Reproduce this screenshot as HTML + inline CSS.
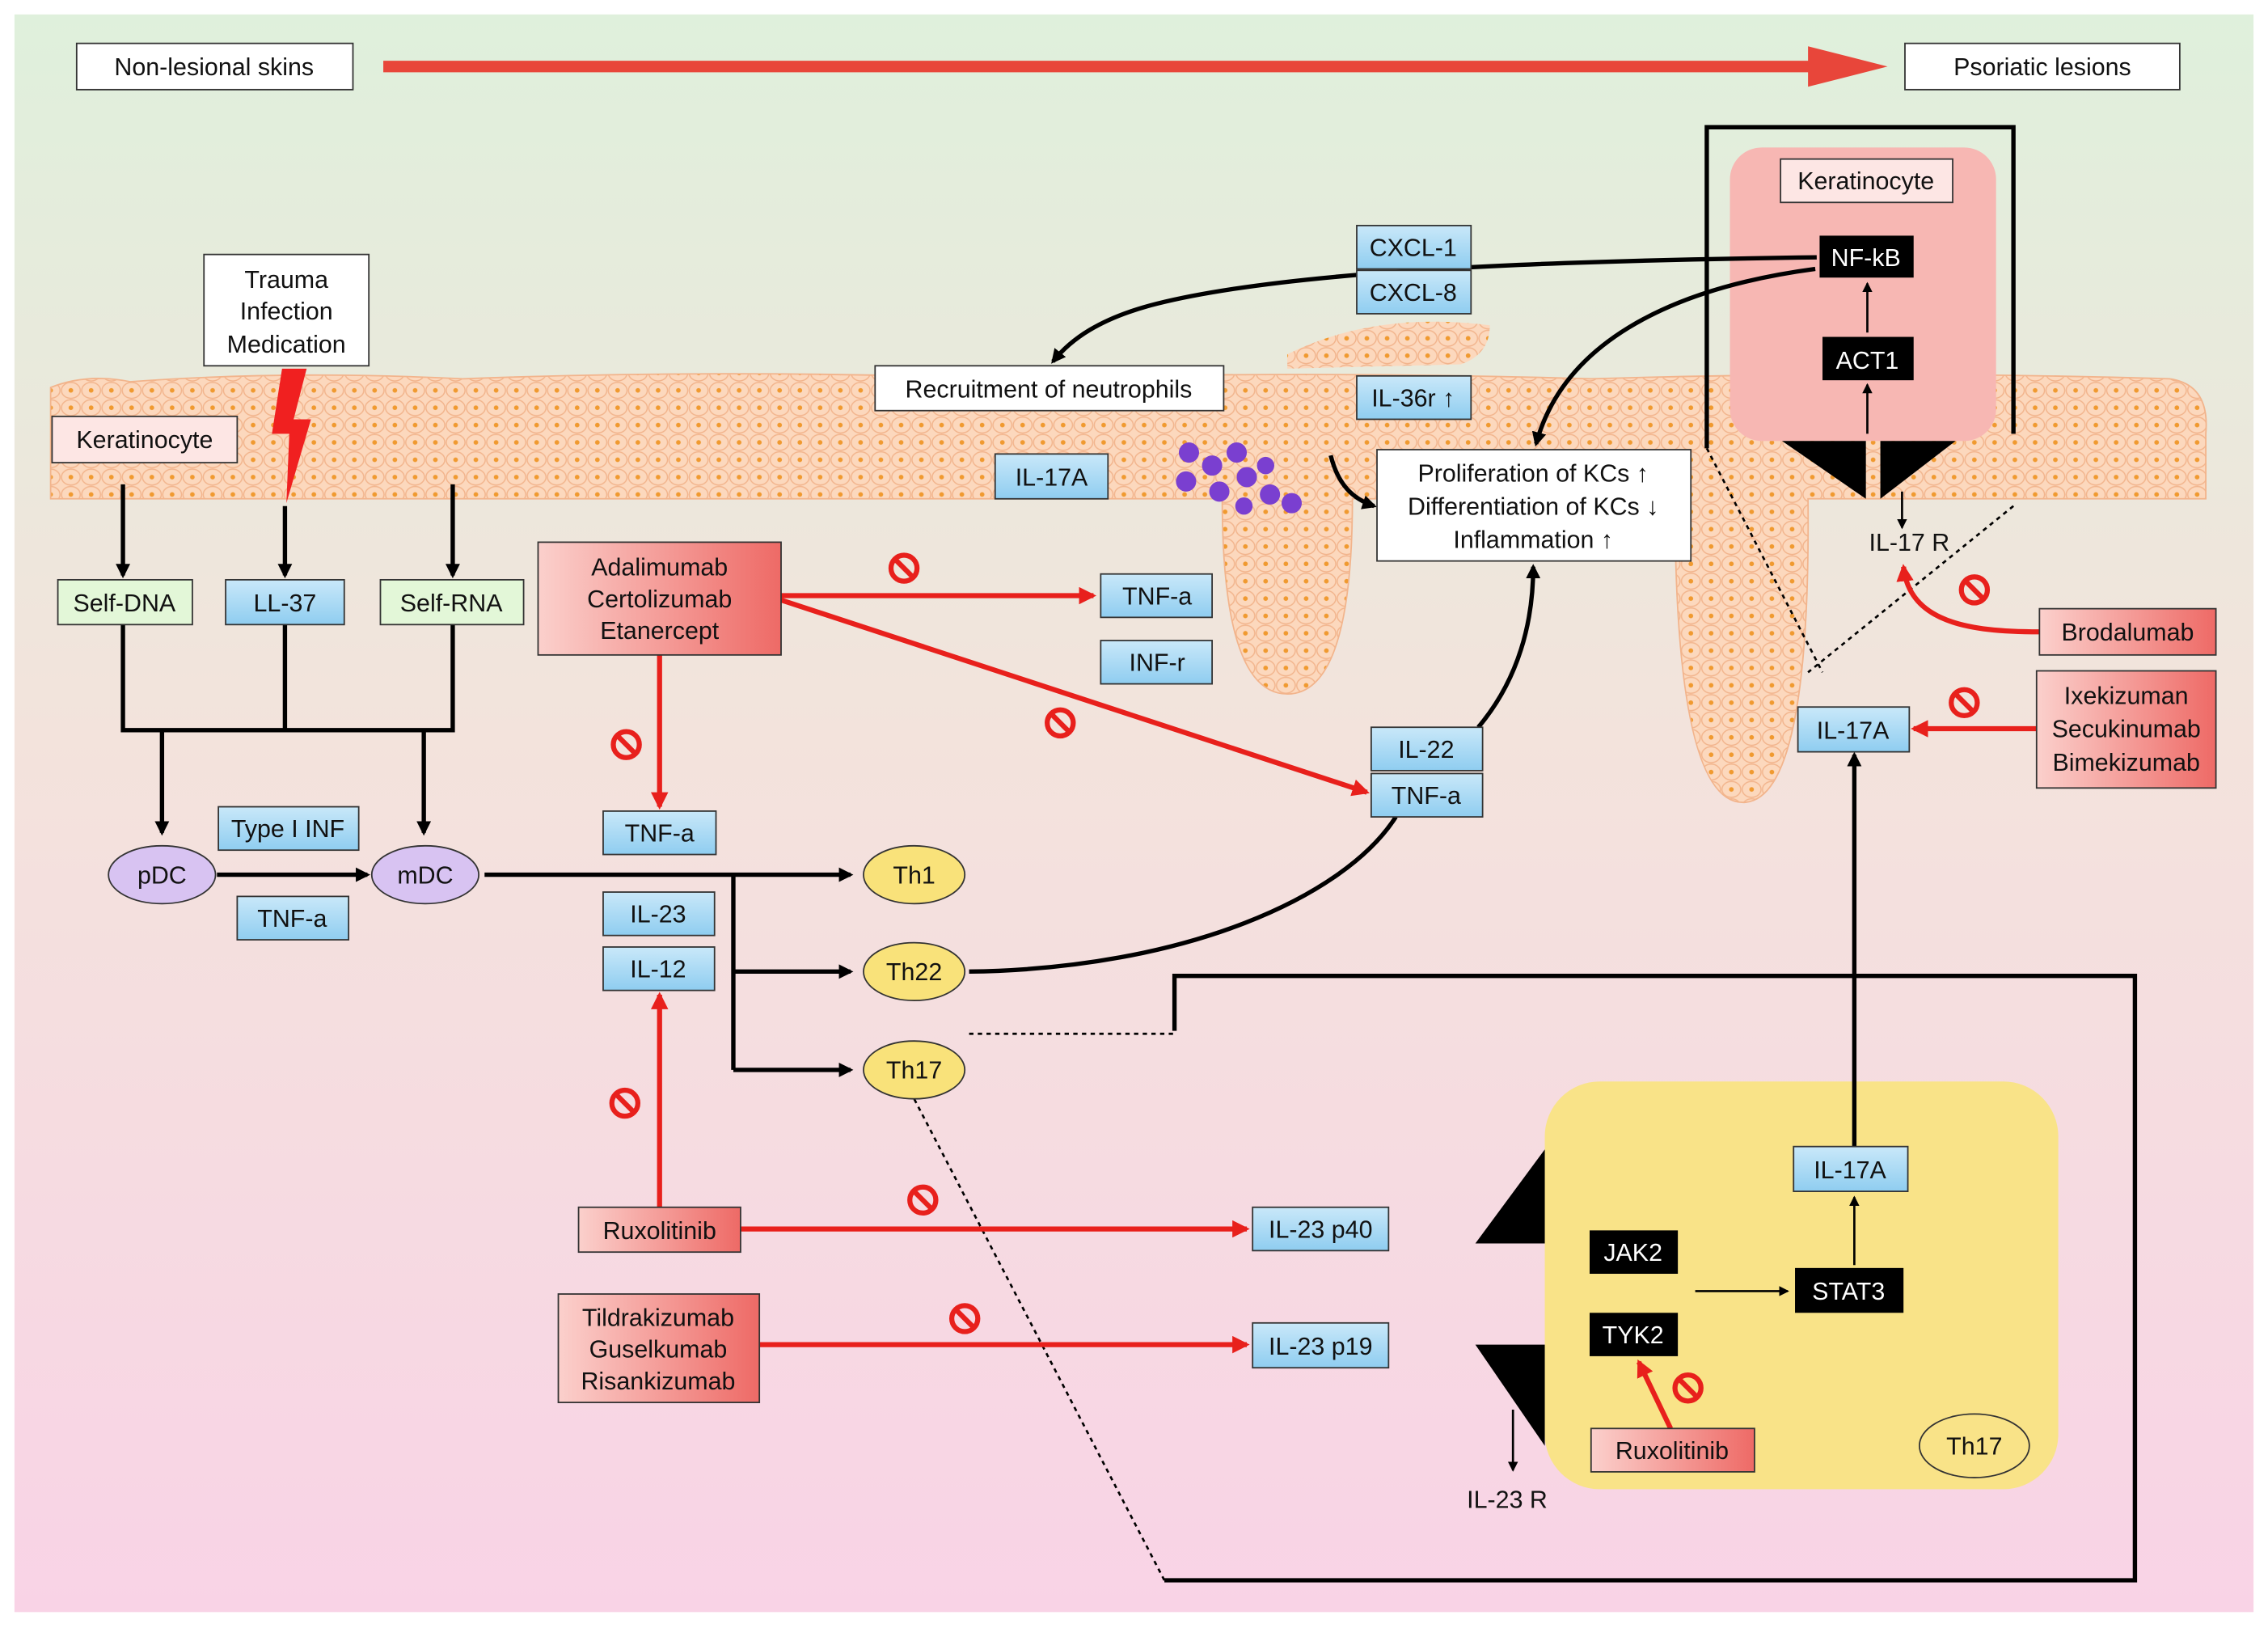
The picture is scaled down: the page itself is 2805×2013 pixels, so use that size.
<!DOCTYPE html>
<html><head><meta charset="utf-8"><style>
html,body{margin:0;padding:0;background:#fff}
svg{display:block}
text{font-family:"Liberation Sans",Arial,sans-serif;font-size:17px;fill:#111}
</style></head><body>
<svg width="2805" height="2013" viewBox="0 0 1568 1126" preserveAspectRatio="none" xmlns="http://www.w3.org/2000/svg">
<defs>
<linearGradient id="bg" x1="0" y1="0" x2="0" y2="1">
<stop offset="0" stop-color="#dff0dc"/><stop offset="0.45" stop-color="#f3e3dc"/><stop offset="1" stop-color="#f9d3e6"/></linearGradient>
<linearGradient id="red" x1="0" y1="0" x2="1" y2="0"><stop offset="0" stop-color="#fbd0cc"/><stop offset="1" stop-color="#ee6a66"/></linearGradient>
<linearGradient id="blue" x1="0" y1="0" x2="0" y2="1"><stop offset="0" stop-color="#c9e8f9"/><stop offset="1" stop-color="#8fcdf0"/></linearGradient>
<pattern id="cells" width="14" height="12" patternUnits="userSpaceOnUse">
<rect width="14" height="12" fill="#fcd8bd"/><ellipse cx="7" cy="6" rx="6.5" ry="5.5" fill="none" stroke="#f2b48c" stroke-width="0.8"/><circle cx="7" cy="6" r="1.6" fill="#f09a30"/></pattern>
<marker id="ab" markerWidth="10" markerHeight="10" refX="8" refY="5" orient="auto" markerUnits="userSpaceOnUse"><path d="M0,0 L10,5 L0,10 z" fill="#000"/></marker>
<marker id="ar" markerWidth="12" markerHeight="12" refX="10" refY="6" orient="auto" markerUnits="userSpaceOnUse"><path d="M0,0 L12,6 L0,12 z" fill="#e8201c"/></marker>
<marker id="as" markerWidth="7" markerHeight="7" refX="6" refY="3.5" orient="auto" markerUnits="userSpaceOnUse"><path d="M0,0 L7,3.5 L0,7 z" fill="#000"/></marker>
<g id="ban"><circle r="9" fill="none" stroke="#e8201c" stroke-width="3.5"/><line x1="-6" y1="-6" x2="6" y2="6" stroke="#e8201c" stroke-width="3.5"/></g>
</defs>
<rect width="1568" height="1126" fill="#fff"/>
<rect x="10" y="10" width="1548" height="1105" fill="url(#bg)"/>

<!-- skin -->
<path d="M35,268 Q60,258 90,264 Q200,256 320,262 Q500,255 700,262 Q900,256 1100,262 Q1300,256 1500,262 Q1528,266 1525,300 L1525,345 L1250,345 Q1252,555 1205,555 Q1158,555 1158,345 L935,345 Q935,480 890,480 Q845,480 845,345 L35,345 Z" fill="url(#cells)" stroke="#f2b48c"/>
<path d="M890,245 Q950,215 1030,225 Q1030,245 1010,252 L890,255 Z" fill="url(#cells)"/>

<!-- panels (behind connectors) -->
<rect x="1196" y="102" width="184" height="203" rx="22" fill="#f7b7b3"/>
<rect x="1068" y="748" width="355" height="282" rx="38" fill="#f9e388"/>

<!-- top arrow -->
<rect x="53" y="30" width="191" height="32" fill="#fff" stroke="#333"/><text x="148" y="52" text-anchor="middle">Non-lesional skins</text>
<line x1="265" y1="46" x2="1262" y2="46" stroke="#e8463a" stroke-width="8"/><path d="M1250,32 L1305,46 L1250,60 z" fill="#e8463a"/>
<rect x="1317" y="30" width="190" height="32" fill="#fff" stroke="#333"/><text x="1412" y="52" text-anchor="middle">Psoriatic lesions</text>

<!-- left -->
<rect x="141" y="176" width="114" height="77" fill="#fff" stroke="#333"/>
<text x="198" y="199" text-anchor="middle">Trauma</text><text x="198" y="221" text-anchor="middle">Infection</text><text x="198" y="244" text-anchor="middle">Medication</text>
<path d="M195,255 L212,255 L203,290 L215,290 L198,348 L200,300 L188,300 Z" fill="#f02020"/>
<rect x="36" y="288" width="128" height="32" fill="#fde6e4" stroke="#333"/><text x="100" y="310" text-anchor="middle">Keratinocyte</text>
<g stroke="#000" stroke-width="3" fill="none">
<line x1="85" y1="335" x2="85" y2="398" marker-end="url(#ab)"/>
<line x1="197" y1="350" x2="197" y2="398" marker-end="url(#ab)"/>
<line x1="313" y1="335" x2="313" y2="398" marker-end="url(#ab)"/>
<path d="M85,432 V505 H313 V432 M197,432 V505"/>
<line x1="112" y1="505" x2="112" y2="576" marker-end="url(#ab)"/>
<line x1="293" y1="505" x2="293" y2="576" marker-end="url(#ab)"/>
<line x1="150" y1="605" x2="254" y2="605" marker-end="url(#ab)"/>
<line x1="335" y1="605" x2="588" y2="605" marker-end="url(#ab)"/>
<path d="M507,605 V740"/>
<line x1="507" y1="672" x2="588" y2="672" marker-end="url(#ab)"/>
<line x1="507" y1="740" x2="588" y2="740" marker-end="url(#ab)"/>
<path d="M670,672 C820,670 930,620 965,565"/>
<path d="M1022,503 C1050,470 1060,430 1060,392" marker-end="url(#ab)"/>
<path d="M1256,178 C1100,180 900,185 800,210 C760,220 740,235 728,250" marker-end="url(#ab)"/>
<path d="M1255,186 C1150,200 1080,240 1062,307" marker-end="url(#ab)"/>
<path d="M920,315 C925,335 935,345 950,350" marker-end="url(#ab)"/>
<path d="M1180,310 V88 H1392 V300"/>
<path d="M812,713 V675 H1476 V1093 H805"/>
<line x1="1282" y1="793" x2="1282" y2="522" marker-end="url(#ab)"/>
</g>
<g stroke="#000" stroke-width="1.5" stroke-dasharray="3,3" fill="none">
<path d="M670,715 H812"/><path d="M805,1093 L632,760"/>
<path d="M1180,310 L1260,465"/><path d="M1392,350 L1250,465"/>
</g>
<rect x="40" y="401" width="93" height="31" fill="#e3f7d8" stroke="#333"/><text x="86" y="423" text-anchor="middle">Self-DNA</text>
<rect x="156" y="401" width="82" height="31" fill="url(#blue)" stroke="#333"/><text x="197" y="423" text-anchor="middle">LL-37</text>
<rect x="263" y="401" width="99" height="31" fill="#e3f7d8" stroke="#333"/><text x="312" y="423" text-anchor="middle">Self-RNA</text>
<ellipse cx="112" cy="605" rx="37" ry="20" fill="#d8c3f2" stroke="#333"/><text x="112" y="611" text-anchor="middle">pDC</text>
<ellipse cx="294" cy="605" rx="37" ry="20" fill="#d8c3f2" stroke="#333"/><text x="294" y="611" text-anchor="middle">mDC</text>
<rect x="151" y="558" width="97" height="30" fill="url(#blue)" stroke="#333"/><text x="199" y="579" text-anchor="middle">Type I INF</text>
<rect x="164" y="620" width="77" height="30" fill="url(#blue)" stroke="#333"/><text x="202" y="641" text-anchor="middle">TNF-a</text>
<ellipse cx="632" cy="605" rx="35" ry="20" fill="#f9e27a" stroke="#333"/><text x="632" y="611" text-anchor="middle">Th1</text>
<ellipse cx="632" cy="672" rx="35" ry="20" fill="#f9e27a" stroke="#333"/><text x="632" y="678" text-anchor="middle">Th22</text>
<ellipse cx="632" cy="740" rx="35" ry="20" fill="#f9e27a" stroke="#333"/><text x="632" y="746" text-anchor="middle">Th17</text>
<rect x="417" y="561" width="78" height="30" fill="url(#blue)" stroke="#333"/><text x="456" y="582" text-anchor="middle">TNF-a</text>
<rect x="417" y="617" width="77" height="30" fill="url(#blue)" stroke="#333"/><text x="455" y="638" text-anchor="middle">IL-23</text>
<rect x="417" y="655" width="77" height="30" fill="url(#blue)" stroke="#333"/><text x="455" y="676" text-anchor="middle">IL-12</text>

<!-- red arrows -->
<g stroke="#e8201c" stroke-width="3.5" fill="none">
<line x1="456" y1="453" x2="456" y2="558" marker-end="url(#ar)"/>
<line x1="540" y1="412" x2="756" y2="412" marker-end="url(#ar)"/>
<line x1="540" y1="415" x2="945" y2="548" marker-end="url(#ar)"/>
<line x1="456" y1="835" x2="456" y2="688" marker-end="url(#ar)"/>
<line x1="512" y1="850" x2="862" y2="850" marker-end="url(#ar)"/>
<line x1="525" y1="930" x2="862" y2="930" marker-end="url(#ar)"/>
<path d="M1410,437 C1360,437 1320,430 1316,392" marker-end="url(#ar)"/>
<line x1="1408" y1="504" x2="1323" y2="504" marker-end="url(#ar)"/>
<line x1="1155" y1="988" x2="1133" y2="942" marker-end="url(#ar)"/>
</g>
<use href="#ban" x="625" y="393"/><use href="#ban" x="433" y="515"/><use href="#ban" x="733" y="500"/>
<use href="#ban" x="432" y="763"/><use href="#ban" x="638" y="830"/><use href="#ban" x="667" y="912"/>
<use href="#ban" x="1365" y="408"/><use href="#ban" x="1358" y="486"/><use href="#ban" x="1167" y="960"/>

<rect x="372" y="375" width="168" height="78" fill="url(#red)" stroke="#333"/>
<text x="456" y="398" text-anchor="middle">Adalimumab</text><text x="456" y="420" text-anchor="middle">Certolizumab</text><text x="456" y="442" text-anchor="middle">Etanercept</text>
<rect x="761" y="397" width="77" height="30" fill="url(#blue)" stroke="#333"/><text x="800" y="418" text-anchor="middle">TNF-a</text>
<rect x="761" y="443" width="77" height="30" fill="url(#blue)" stroke="#333"/><text x="800" y="464" text-anchor="middle">INF-r</text>
<rect x="948" y="503" width="77" height="30" fill="url(#blue)" stroke="#333"/><text x="986" y="524" text-anchor="middle">IL-22</text>
<rect x="948" y="535" width="77" height="30" fill="url(#blue)" stroke="#333"/><text x="986" y="556" text-anchor="middle">TNF-a</text>
<rect x="400" y="835" width="112" height="31" fill="url(#red)" stroke="#333"/><text x="456" y="857" text-anchor="middle">Ruxolitinib</text>
<rect x="386" y="895" width="139" height="75" fill="url(#red)" stroke="#333"/>
<text x="455" y="917" text-anchor="middle">Tildrakizumab</text><text x="455" y="939" text-anchor="middle">Guselkumab</text><text x="455" y="961" text-anchor="middle">Risankizumab</text>
<rect x="866" y="835" width="94" height="30" fill="url(#blue)" stroke="#333"/><text x="913" y="856" text-anchor="middle">IL-23 p40</text>
<rect x="866" y="915" width="94" height="31" fill="url(#blue)" stroke="#333"/><text x="913" y="937" text-anchor="middle">IL-23 p19</text>

<!-- middle top -->
<rect x="605" y="253" width="241" height="31" fill="#fff" stroke="#333"/><text x="725" y="275" text-anchor="middle">Recruitment of  neutrophils</text>
<rect x="938" y="156" width="79" height="30" fill="url(#blue)" stroke="#333"/><text x="977" y="177" text-anchor="middle">CXCL-1</text>
<rect x="938" y="187" width="79" height="30" fill="url(#blue)" stroke="#333"/><text x="977" y="208" text-anchor="middle">CXCL-8</text>
<rect x="938" y="260" width="79" height="30" fill="url(#blue)" stroke="#333"/><text x="977" y="281" text-anchor="middle">IL-36r ↑</text>
<rect x="688" y="314" width="78" height="31" fill="url(#blue)" stroke="#333"/><text x="727" y="336" text-anchor="middle">IL-17A</text>
<g fill="#7a3fd0"><circle cx="822" cy="313" r="7"/><circle cx="838" cy="322" r="7"/><circle cx="855" cy="313" r="7"/><circle cx="820" cy="333" r="7"/><circle cx="843" cy="340" r="7"/><circle cx="862" cy="330" r="7"/><circle cx="878" cy="342" r="7"/><circle cx="893" cy="348" r="7"/><circle cx="860" cy="350" r="6"/><circle cx="875" cy="322" r="6"/></g>
<rect x="952" y="311" width="217" height="77" fill="#fff" stroke="#333"/>
<text x="1060" y="333" text-anchor="middle">Proliferation of KCs ↑</text><text x="1060" y="356" text-anchor="middle">Differentiation of KCs ↓</text><text x="1060" y="379" text-anchor="middle">Inflammation ↑</text>

<!-- keratinocyte panel contents -->
<rect x="1231" y="110" width="119" height="30" fill="#fde6e4" stroke="#333"/><text x="1290" y="131" text-anchor="middle">Keratinocyte</text>
<rect x="1258" y="163" width="65" height="29" fill="#000"/><text x="1290" y="184" text-anchor="middle" style="fill:#fff">NF-kB</text>
<rect x="1260" y="233" width="63" height="30" fill="#000"/><text x="1291" y="255" text-anchor="middle" style="fill:#fff">ACT1</text>
<g stroke="#000" stroke-width="1.5"><line x1="1291" y1="230" x2="1291" y2="196" marker-end="url(#as)"/><line x1="1291" y1="300" x2="1291" y2="266" marker-end="url(#as)"/><line x1="1315" y1="340" x2="1315" y2="365" marker-end="url(#as)"/>
<line x1="1282" y1="875" x2="1282" y2="828" marker-end="url(#as)"/><line x1="1172" y1="893" x2="1236" y2="893" marker-end="url(#as)"/><line x1="1046" y1="975" x2="1046" y2="1017" marker-end="url(#as)"/></g>
<path d="M1232,305 L1290,305 L1290,345 Z" fill="#000"/><path d="M1352,305 L1300,305 L1300,345 Z" fill="#000"/>
<text x="1320" y="381" text-anchor="middle">IL-17 R</text>
<rect x="1410" y="421" width="122" height="32" fill="url(#red)" stroke="#333"/><text x="1471" y="443" text-anchor="middle">Brodalumab</text>
<rect x="1408" y="464" width="124" height="81" fill="url(#red)" stroke="#333"/>
<text x="1470" y="487" text-anchor="middle">Ixekizuman</text><text x="1470" y="510" text-anchor="middle">Secukinumab</text><text x="1470" y="533" text-anchor="middle">Bimekizumab</text>
<rect x="1243" y="489" width="77" height="31" fill="url(#blue)" stroke="#333"/><text x="1281" y="511" text-anchor="middle">IL-17A</text>

<!-- Th17 panel contents -->
<path d="M1068,795 L1068,860 L1020,860 Z" fill="#000"/><path d="M1068,930 L1068,1000 L1020,930 Z" fill="#000"/>
<rect x="1240" y="793" width="79" height="31" fill="url(#blue)" stroke="#333"/><text x="1279" y="815" text-anchor="middle">IL-17A</text>
<rect x="1241" y="877" width="75" height="31" fill="#000"/><text x="1278" y="899" text-anchor="middle" style="fill:#fff">STAT3</text>
<rect x="1099" y="851" width="61" height="30" fill="#000"/><text x="1129" y="872" text-anchor="middle" style="fill:#fff">JAK2</text>
<rect x="1099" y="908" width="61" height="30" fill="#000"/><text x="1129" y="929" text-anchor="middle" style="fill:#fff">TYK2</text>
<rect x="1100" y="988" width="113" height="30" fill="url(#red)" stroke="#333"/><text x="1156" y="1009" text-anchor="middle">Ruxolitinib</text>
<ellipse cx="1365" cy="1000" rx="38" ry="22" fill="none" stroke="#333"/><text x="1365" y="1006" text-anchor="middle">Th17</text>
<text x="1042" y="1043" text-anchor="middle">IL-23 R</text>
</svg>
</body></html>
